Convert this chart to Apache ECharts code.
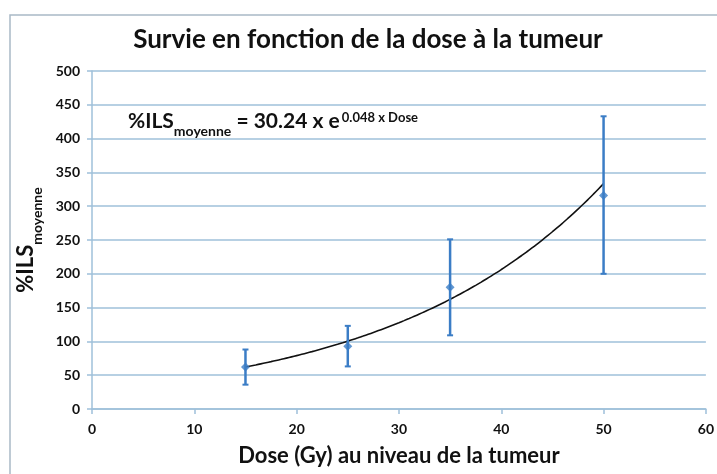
<!DOCTYPE html>
<html>
<head>
<meta charset="utf-8">
<script src="https://cdn.jsdelivr.net/npm/echarts@6/dist/echarts.min.js"></script>
<style>
  html, body { margin: 0; padding: 0; background: #ffffff; }
  #chart { width: 717px; height: 474px; }
</style>
</head>
<body>
<div id="chart"></div>
<script>
// Mean survival (%ILS) against tumour dose, with error bars
const doses = [15, 25, 35, 50];
const meanILS = [62, 93, 180, 316];
const upperILS = [88, 123, 251, 433];
const lowerILS = [36, 63, 109, 200];

// Exponential fit printed on the chart: %ILS = A * e^(B * Dose)
const fitA = 30.24;
const fitB = 0.048;
const fitStart = 15;
const fitEnd = 50;

const xTicks = [0, 10, 20, 30, 40, 50, 60];
const yTicks = [0, 50, 100, 150, 200, 250, 300, 350, 400, 450, 500];

const FONT = 'Lato, "Open Sans", sans-serif';
const BLUE = '#3b7dc6';
const GRID = '#9fc0da';

const fitCurve = [];
for (let d = fitStart; d <= fitEnd + 1e-9; d += 0.5) {
  fitCurve.push([d, fitA * Math.exp(fitB * d)]);
}

const points = doses.map((d, i) => [d, meanILS[i]]);
const bars = doses.map((d, i) => [d, lowerILS[i], upperILS[i]]);

const chart = echarts.init(document.getElementById('chart'), null, { renderer: 'canvas' });

chart.setOption({
  backgroundColor: '#ffffff',
  animation: false,
  grid: { left: 92, right: 7, top: 71, bottom: 65, containLabel: false },
  graphic: [
    {
      type: 'rect', z: 0,
      shape: { x: 10, y: 15, width: 720, height: 470 },
      style: { fill: 'none', stroke: '#a9b9c6', lineWidth: 1.5 }
    },
    {
      type: 'text', z: 10,
      x: 368, y: 40,
      style: {
        text: 'Survie en fonction de la dose à la tumeur',
        font: 'bold 26px ' + FONT,
        fill: '#111111',
        align: 'center',
        verticalAlign: 'middle'
      }
    },
    {
      // equation label: every token top-aligned, shifted down by its own padding
      type: 'text', z: 10,
      x: 128, y: 106,
      style: {
        text: '{m|%ILS}{s|moyenne}{m| = 30.24 x e}{p|0.048 x Dose}',
        fill: '#111111',
        rich: {
          m: { fontFamily: FONT, fontWeight: 'bold', fontSize: 21, lineHeight: 36, verticalAlign: 'top', padding: [5, 0, 0, 0], fill: '#111111' },
          s: { fontFamily: FONT, fontWeight: 'bold', fontSize: 14, lineHeight: 36, verticalAlign: 'top', padding: [18, 0, 0, 0], fill: '#111111' },
          p: { fontFamily: FONT, fontWeight: 'bold', fontSize: 13, lineHeight: 36, verticalAlign: 'top', padding: [5, 0, 0, 2], fill: '#111111' }
        }
      }
    }
  ],
  xAxis: {
    type: 'value',
    min: 0, max: 60, interval: 10,
    name: 'Dose (Gy) au niveau de la tumeur',
    nameLocation: 'middle',
    nameGap: 36,
    nameTextStyle: { fontFamily: FONT, fontWeight: 'bold', fontSize: 22, color: '#111111', verticalAlign: 'top' },
    axisLine: { show: true, onZero: false, lineStyle: { color: GRID, width: 1.5 } },
    axisTick: { show: true, length: 5, inside: false, lineStyle: { color: GRID, width: 1.5 } },
    axisLabel: {
      margin: 13,
      fontFamily: FONT, fontWeight: 'bold', fontSize: 14, color: '#111111',
      formatter: v => (xTicks.indexOf(v) >= 0 ? String(v) : '')
    },
    splitLine: { show: false }
  },
  yAxis: {
    type: 'value',
    min: 0, max: 500, interval: 50,
    name: '{m|%ILS}{s|moyenne}',
    nameLocation: 'middle',
    nameRotate: 90,
    nameGap: 47,
    nameTextStyle: {
      color: '#111111',
      rich: {
        m: { fontFamily: FONT, fontWeight: 'bold', fontSize: 22, lineHeight: 30, verticalAlign: 'top', color: '#111111' },
        s: { fontFamily: FONT, fontWeight: 'bold', fontSize: 14, lineHeight: 10, verticalAlign: 'bottom', color: '#111111' }
      }
    },
    axisLine: { show: true, onZero: false, lineStyle: { color: GRID, width: 1.5 } },
    axisTick: { show: true, length: 5, inside: false, lineStyle: { color: GRID, width: 1.5 } },
    axisLabel: {
      margin: 12,
      fontFamily: FONT, fontWeight: 'bold', fontSize: 14, color: '#111111',
      formatter: v => (yTicks.indexOf(v) >= 0 ? String(v) : '')
    },
    splitLine: { show: true, lineStyle: { color: GRID, width: 1.5 } }
  },
  series: [
    {
      name: 'Tendance exponentielle',
      type: 'line',
      data: fitCurve,
      smooth: true,
      showSymbol: false,
      lineStyle: { color: '#111111', width: 1.6 },
      z: 3
    },
    {
      name: 'Barres d\'erreur',
      type: 'custom',
      data: bars,
      z: 4,
      renderItem: function (params, api) {
        const x = api.value(0);
        const lo = api.coord([x, api.value(1)]);
        const hi = api.coord([x, api.value(2)]);
        const cap = 3;
        const style = { stroke: BLUE, lineWidth: 2.5 };
        return {
          type: 'group',
          children: [
            { type: 'line', shape: { x1: lo[0], y1: lo[1], x2: hi[0], y2: hi[1] }, style: style },
            { type: 'line', shape: { x1: hi[0] - cap, y1: hi[1], x2: hi[0] + cap, y2: hi[1] }, style: { stroke: BLUE, lineWidth: 2 } },
            { type: 'line', shape: { x1: lo[0] - cap, y1: lo[1], x2: lo[0] + cap, y2: lo[1] }, style: { stroke: BLUE, lineWidth: 2 } }
          ]
        };
      }
    },
    {
      name: '%ILS moyenne',
      type: 'scatter',
      data: points,
      symbol: 'diamond',
      symbolSize: 9,
      itemStyle: { color: BLUE },
      z: 5
    }
  ]
});
</script>
</body>
</html>
